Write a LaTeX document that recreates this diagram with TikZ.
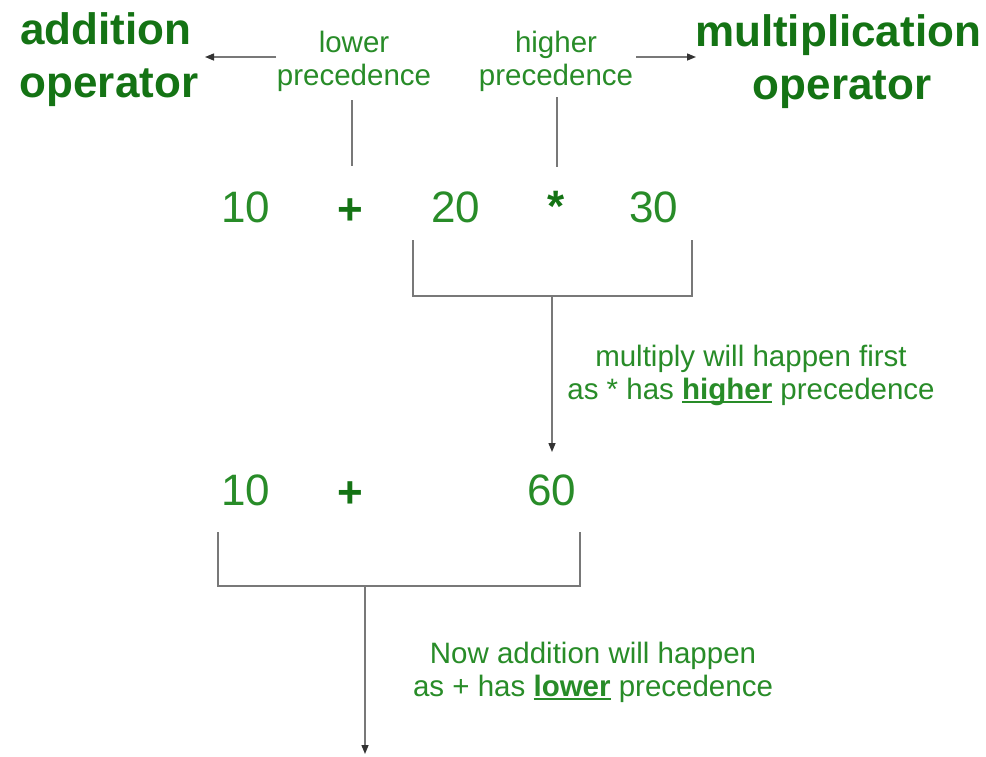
\documentclass[tikz,border=0pt]{standalone}
\usepackage{fontspec}
\setmainfont{Liberation Sans}
\usetikzlibrary{arrows.meta}
\definecolor{txtgreen}{RGB}{40,140,40}
\definecolor{boldgreen}{RGB}{20,115,20}
\definecolor{linegray}{RGB}{120,120,120}
\newcommand\myul[1]{\setbox0\hbox{#1}\rlap{\rule[-4pt]{\wd0}{2.2pt}}\box0}
\begin{document}
\begin{tikzpicture}[x=1pt,y=-1pt,
  title/.style={text=boldgreen,font=\fontsize{44}{53}\selectfont\bfseries,align=center,inner sep=0pt},
  note/.style={text=txtgreen,font=\fontsize{29.5}{33}\selectfont,align=center,inner sep=0pt},
  expr/.style={text=txtgreen,font=\fontsize{44}{50}\selectfont,inner sep=0pt},
  exprb/.style={text=boldgreen,font=\fontsize{44}{50}\selectfont\bfseries,inner sep=0pt},
  conn/.style={draw=linegray,line width=1.4pt},
  arr/.style={conn,-{Triangle[length=9pt,width=7pt,fill=black!80,color=black!80]}}]
\useasboundingbox (0,0) rectangle (986,756);
\fill[white] (0,0) rectangle (986,756);
% titles
\node[title] (addop) at (109,60) {addition\hspace*{6pt}\\operator};
\node[title] (mulop) at (838,62) {multiplication\\\hspace*{8pt}operator};
\node[note] (lowp) at (354,61) {lower\\precedence};
\node[note] (highp) at (556,61) {higher\\precedence};
\coordinate (la) at (276,57);
\coordinate (lb) at (205,57);
\coordinate (ha) at (636,57);
\coordinate (hb) at (696,57);
\draw[arr] (la) -- (lb);
\draw[arr] (ha) -- (hb);
% row 1
\node[expr] (a10) at (246,207) {10};
\node[exprb] (aplus) at (350,212) {+};
\node[expr] (a20) at (456,207) {20};
\node[exprb] (astar) at (556,206) {*};
\node[expr] (a30) at (654,207) {30};
\coordinate (lv1) at (352,100);
\coordinate (lv2) at (352,166);
\coordinate (hv1) at (557,97);
\coordinate (hv2) at (557,167);
\draw[conn] (lv1) -- (lv2);
\draw[conn] (hv1) -- (hv2);
% bracket 1
\coordinate (b1l) at (413,240);
\coordinate (b1r) at (692,240);
\coordinate (b1m) at (552,296);
\coordinate (b1t) at (552,452);
\draw[conn] (b1l) |- (b1r |- b1m) -- (b1r);
\draw[arr] (b1m) -- (b1t);
\node[note] (t1) at (751,375) {multiply will happen first\\as * has \myul{\bfseries higher}{} precedence};
% row 2
\node[expr] (b10) at (246,490) {10};
\node[exprb] (bplus) at (350,495) {+};
\node[expr] (b60) at (552,490) {60};
% bracket 2
\coordinate (b2l) at (218,532);
\coordinate (b2r) at (580,532);
\coordinate (b2m) at (365,586);
\coordinate (b2t) at (365,754);
\draw[conn] (b2l) |- (b2r |- b2m) -- (b2r);
\draw[arr] (b2m) -- (b2t);
\node[note] (t2) at (593,672) {Now addition will happen\\as + has \myul{\bfseries lower}{} precedence};
\end{tikzpicture}
\end{document}
